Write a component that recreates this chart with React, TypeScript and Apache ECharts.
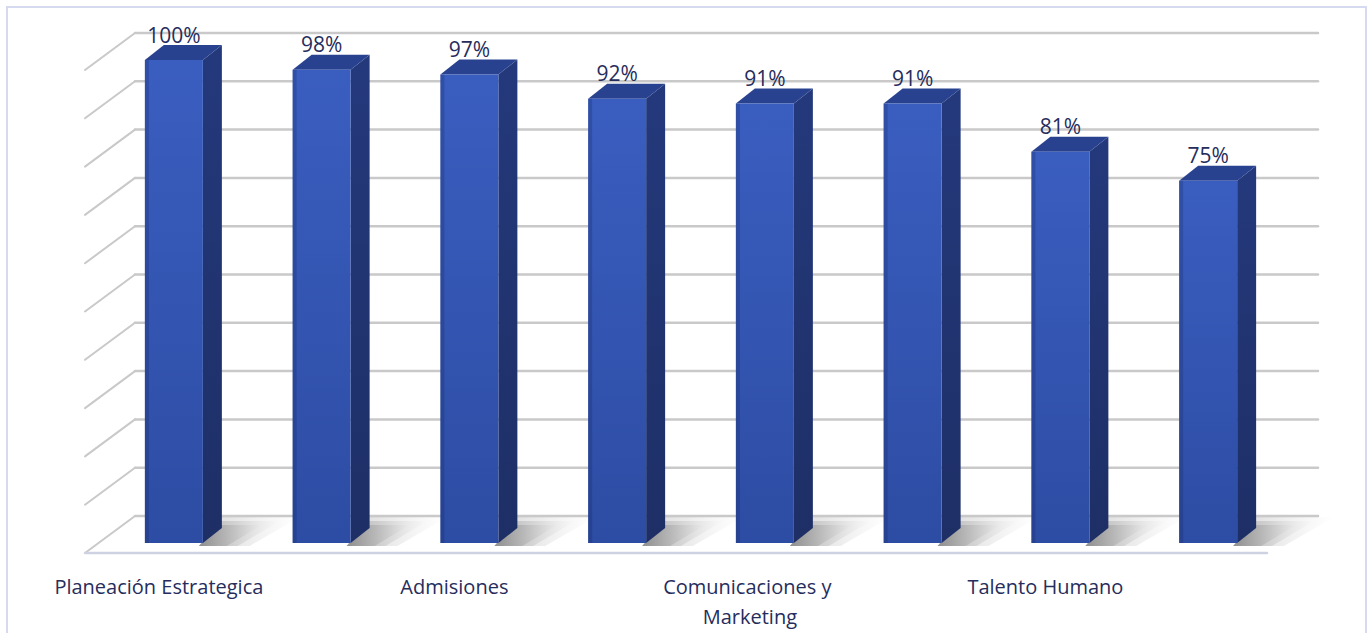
import React, { useEffect, useRef } from "react";
import * as echarts from "echarts";

const categories = [
  "Planeación Estrategica",
  "Gestión Académica",
  "Admisiones",
  "Financiera",
  "Comunicaciones y Marketing",
  "Bienestar",
  "Talento Humano",
  "Tecnología",
];
const values = [100, 98, 97, 92, 91, 91, 81, 75];
const gridTicks = [0, 10, 20, 30, 40, 50, 60, 70, 80, 90, 100];

const TEXT = "#262d5c";

export default function App() {
  const ref = useRef<HTMLDivElement>(null);
  useEffect(() => {
    const chart = echarts.init(ref.current!, null, { renderer: "svg" });
    const BAR_SHIFT = 15;
    const HALF = 29;
    const DX = 19;
    const DY = -15;
    const WALL_DX = 50;
    const WALL_DY = -27;
    const GRID_COLOR = "#c9c9c9";

    const shadowLayer = (xr: number, y0: number, ext: number, up: number, alpha: number) => ({
      type: "polygon",
      silent: true,
      shape: {
        points: [
          [xr - 4, y0 + 3],
          [xr + DX - 2, y0 - up],
          [xr + DX + ext, y0 - up],
          [xr + ext * 0.6, y0 + 3],
        ],
      },
      style: {
        fill: new echarts.graphic.LinearGradient(0, 0, 1, 0, [
          { offset: 0, color: `rgba(60,60,60,${alpha})` },
          { offset: 0.45, color: `rgba(90,90,90,${alpha * 0.6})` },
          { offset: 1, color: "rgba(140,140,140,0)" },
        ]),
      },
    });

    chart.setOption({
      animation: false,
      backgroundColor: "#ffffff",
      graphic: [
        {
          type: "rect",
          shape: { x: 7, y: 7, width: 1359, height: 650 },
          style: { fill: "none", stroke: "#d6daf0", lineWidth: 2 },
          z: 0,
        },
      ],
      grid: { left: 85, top: 60, width: 1182, height: 483 },
      xAxis: {
        type: "category",
        data: categories,
        axisLine: { show: false },
        axisTick: { show: false },
        axisLabel: {
          interval: 1,
          margin: 28,
          color: TEXT,
          fontFamily: "Open Sans",
          fontSize: 20,
          lineHeight: 30,
          width: 232,
          overflow: "break",
        },
      },
      yAxis: {
        type: "value",
        min: 0,
        max: 100,
        interval: 10,
        show: false,
        splitLine: { show: false },
      },
      series: [
        {
          type: "custom",
          name: "grid",
          clip: false,
          silent: true,
          z: 1,
          data: gridTicks.map((t) => [0, t]),
          renderItem: (params: any, api: any) => {
            const cs = params.coordSys;
            const v = api.value(1);
            const y = api.coord([0, v])[1];
            const yb = y + WALL_DY;
            const xl = cs.x + WALL_DX;
            const xr = cs.x + cs.width + WALL_DX + 1;
            const children: any[] = [
              {
                type: "line",
                shape: { x1: xl, y1: yb, x2: xr, y2: yb },
                style: { stroke: GRID_COLOR, lineWidth: 2.5, lineCap: "round" },
              },
              {
                type: "line",
                shape: { x1: xl, y1: yb, x2: cs.x, y2: y + 10 },
                style: { stroke: GRID_COLOR, lineWidth: 2, lineCap: "round" },
              },
            ];
            if (v === 0) {
              children.push({
                type: "line",
                shape: { x1: cs.x, y1: y + 10, x2: cs.x + cs.width, y2: y + 10 },
                style: { stroke: "#cfd2e2", lineWidth: 2.5, lineCap: "round" },
              });
            }
            return { type: "group", children };
          },
        },
        {
          type: "custom",
          name: "bars",
          clip: false,
          z: 2,
          data: values.map((v, i) => [i, v]),
          renderItem: (params: any, api: any) => {
            const idx = api.value(0);
            const v = api.value(1);
            const base = api.coord([idx, 0]);
            const top = api.coord([idx, v]);
            const cx = base[0] + BAR_SHIFT;
            const xl = cx - HALF;
            const xr = cx + HALF;
            const y0 = base[1];
            const y1 = top[1];
            return {
              type: "group",
              children: [
                shadowLayer(xr, y0, 78, 26, 0.2),
                shadowLayer(xr, y0, 58, 22, 0.25),
                shadowLayer(xr, y0, 40, 18, 0.3),
                {
                  type: "polygon",
                  shape: {
                    points: [
                      [xr, y1],
                      [xr + DX, y1 + DY],
                      [xr + DX, y0 + DY],
                      [xr, y0],
                    ],
                  },
                  style: {
                    fill: new echarts.graphic.LinearGradient(0, 0, 0, 1, [
                      { offset: 0, color: "#24397c" },
                      { offset: 1, color: "#1e2f66" },
                    ]),
                  },
                },
                {
                  type: "polygon",
                  shape: {
                    points: [
                      [xl, y1],
                      [xl + DX, y1 + DY],
                      [xr + DX, y1 + DY],
                      [xr, y1],
                    ],
                  },
                  style: { fill: "#29428f" },
                },
                {
                  type: "rect",
                  shape: { x: xl, y: y1, width: xr - xl, height: y0 - y1 },
                  style: {
                    fill: new echarts.graphic.LinearGradient(0, 0, 0, 1, [
                      { offset: 0, color: "#3a5ec0" },
                      { offset: 1, color: "#2d4ca3" },
                    ]),
                  },
                },
                {
                  type: "rect",
                  shape: { x: xl, y: y1, width: 4, height: y0 - y1 },
                  style: { fill: "rgba(20,35,90,0.25)" },
                },
                {
                  type: "text",
                  style: {
                    text: v + "%",
                    x: cx,
                    y: y1 - 15,
                    align: "center",
                    verticalAlign: "bottom",
                    fill: TEXT,
                    fontFamily: "Open Sans",
                    fontSize: 21,
                  },
                },
              ],
            };
          },
        },
      ],
    });
    return () => chart.dispose();
  }, []);
  return (
    <div
      ref={ref}
      style={{ position: "absolute", left: 0, top: 0, width: 1369, height: 633 }}
    />
  );
}
